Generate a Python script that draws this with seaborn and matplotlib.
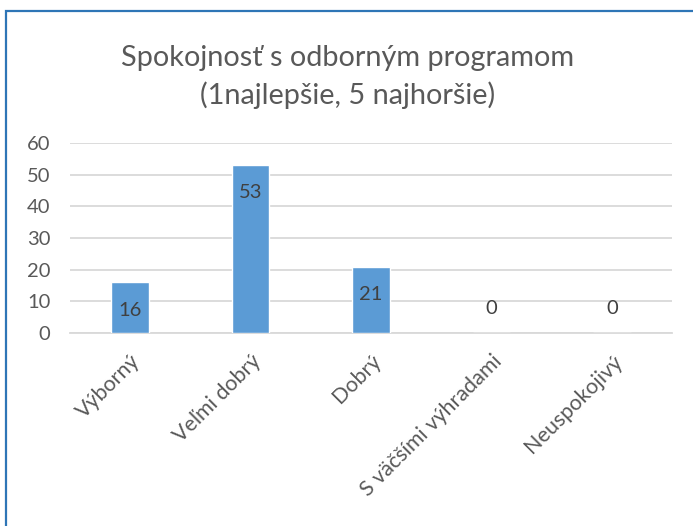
import numpy as np
import pandas as pd
import matplotlib
matplotlib.use("Agg")
import matplotlib.pyplot as plt
import seaborn as sns
from matplotlib.patches import Rectangle

# data
categories = ["Výborný", "Veľmi dobrý", "Dobrý", "S väčšími výhradami", "Neuspokojivý"]
counts = [16, 53, 21, 0, 0]
title_text = "Spokojnosť s odborným programom\n(1najlepšie, 5 najhoršie)"

df = pd.DataFrame({"Hodnotenie": categories, "Počet": counts})

sns.set_theme(style="white")
plt.rcParams["font.family"] = ["Lato", "DejaVu Sans"]

grey_text = "#595959"
grid_col = "#D9D9D9"
bar_col = "#5B9BD5"
label_size = 14.5

fig = plt.figure(figsize=(6.93, 5.26), dpi=100)
ax = fig.add_axes([70 / 693, 1 - 333 / 526, 602 / 693, 190 / 526])

sns.barplot(data=df, x="Hodnotenie", y="Počet", color=bar_col, saturation=1,
            width=0.313, ax=ax, zorder=3)

ax.set_ylim(0, 60)
ax.set_yticks(np.arange(0, 61, 10))
ax.set_xlim(-0.5, len(categories) - 0.5)
ax.yaxis.grid(True, color=grid_col, linewidth=1.3, zorder=0)
ax.set_axisbelow(True)
for side in ["left", "right", "top"]:
    ax.spines[side].set_visible(False)
ax.spines["bottom"].set_color(grid_col)
ax.spines["bottom"].set_linewidth(1.3)

ax.set_xlabel("")
ax.set_ylabel("")
ax.tick_params(axis="both", length=0, labelsize=label_size, colors=grey_text)
ax.tick_params(axis="y", pad=14)
ax.tick_params(axis="x", pad=13, labelsize=15.5)
plt.setp(ax.get_xticklabels(), rotation=45, ha="right", rotation_mode="anchor")

# data labels: inside end for bars, above the axis for zeros
for i, v in enumerate(counts):
    off = -20 if v > 0 else 18
    ax.annotate(str(v), xy=(i, v), xytext=(0, off), textcoords="offset points",
                ha="center", va="center", fontsize=label_size, color="#404040", zorder=4)

fig.text(0.502, 1 - 77 / 526, title_text, ha="center", va="center",
         fontsize=20.8, color=grey_text, linespacing=1.45)

# chart border (Excel style frame)
fig.patches.append(Rectangle((6 / 693, -0.05), 1.2, 1.05 - 11 / 526,
                             transform=fig.transFigure, fill=False,
                             edgecolor="#2E75B6", linewidth=1.6))

fig.savefig("out.png", dpi=100)
